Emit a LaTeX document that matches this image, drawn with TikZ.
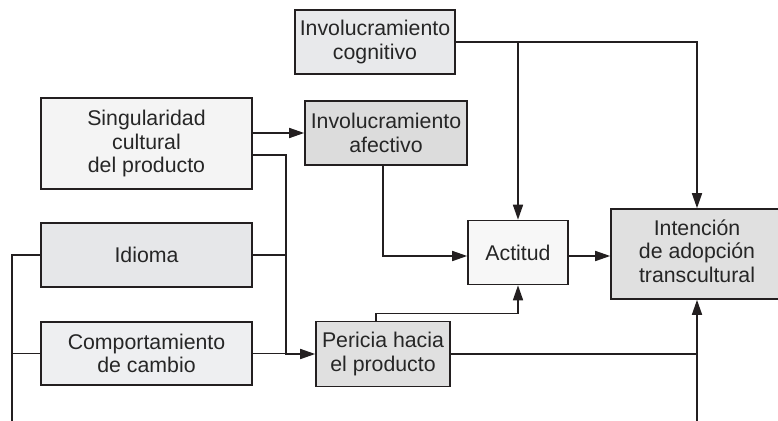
\documentclass[tikz,border=0pt]{standalone}
\usepackage{fontspec}
\setmainfont{Liberation Sans}
\usetikzlibrary{arrows.meta,calc}
\definecolor{ink}{HTML}{231F20}
\definecolor{txt}{HTML}{262626}
\definecolor{fcog}{HTML}{E8E9EB}
\definecolor{fsing}{HTML}{F4F4F4}
\definecolor{fafe}{HTML}{DCDCDC}
\definecolor{fidi}{HTML}{E6E7E9}
\definecolor{fcomp}{HTML}{EEEFF1}
\definecolor{fper}{HTML}{E0E0E0}
\definecolor{fact}{HTML}{F7F7F7}
\definecolor{fint}{HTML}{E0E0E0}
\tikzset{
  boxnode/.style={draw=ink, line width=1.6pt, rectangle, inner sep=0pt, align=center,
    text=txt, font=\fontsize{21.3}{23.5}\selectfont},
  conn/.style={draw=ink, line width=1.6pt},
  arr/.style={conn, -{Triangle[length=15pt,width=10pt]}}
}
\begin{document}
\begin{tikzpicture}[x=1pt,y=-1pt]
\useasboundingbox (0,0) rectangle (778,420);
\node[boxnode, fill=fcog, minimum width=160pt, minimum height=64pt] (cog) at (375,42) {Involucramiento\\cognitivo};
\node[boxnode, fill=fsing, minimum width=211pt, minimum height=91pt] (sing) at (146.5,143.5) {Singularidad\\cultural\\del producto};
\node[boxnode, fill=fafe, minimum width=162pt, minimum height=64pt] (afe) at (386,133) {Involucramiento\\afectivo};
\node[boxnode, fill=fidi, minimum width=211pt, minimum height=64pt] (idi) at (146.5,255) {Idioma};
\node[boxnode, fill=fcomp, minimum width=211pt, minimum height=63pt] (comp) at (146.5,353.5) {Comportamiento\\de cambio};
\node[boxnode, fill=fper, minimum width=134pt, minimum height=65pt] (per) at (383,354) {Pericia hacia\\el producto};
\node[boxnode, fill=fact, minimum width=100pt, minimum height=64pt] (act) at (518,252.5) {Actitud};
\node[boxnode, fill=fint, minimum width=180pt, minimum height=90pt] (int) at (701,254) {\kern-8pt\begin{tabular}{@{}c@{}}Intención\\de adopción\\transcultural\end{tabular}};

\coordinate (bx) at (286,0);
\coordinate (bl) at (12,425);
\coordinate (br) at (697,425);
\coordinate (it) at (697,0);
\coordinate (s2) at ([yshift=-11.5pt]sing.east);
\coordinate (j1) at (act.north |- cog.east);

% cognitivo
\draw[arr] (cog.east) -| (it |- int.north);
\draw[arr] (j1) -- (act.north);
% singularidad
\draw[arr] (sing.east |- afe.west) -- (afe.west);
\draw[arr] (s2) -| (bx |- per.west) -- (per.west);
\draw[conn] (idi.east) -- (idi.east -| bx);
\draw[conn] (comp.east) -- (comp.east -| bx);
% afectivo to actitud
\draw[arr] ([xshift=-3pt]afe.south) |- ([yshift=-3.5pt]act.west);
% actitud to intencion
\draw[arr] ([yshift=-3.5pt]act.east) -- ([yshift=-3.5pt]act.east -| int.west);
% pericia
\draw[arr] ([xshift=-7pt]per.north) |- ([yshift=-28pt]act.south) -- (act.south);
\draw[conn] (per.east) -- (per.east -| br);
% left bus
\draw[conn] (idi.west) -| (bl);
\draw[conn] (comp.west) -- (comp.west -| bl);
% right vertical
\draw[arr] (br) -- (br |- int.south);
\end{tikzpicture}
\end{document}
